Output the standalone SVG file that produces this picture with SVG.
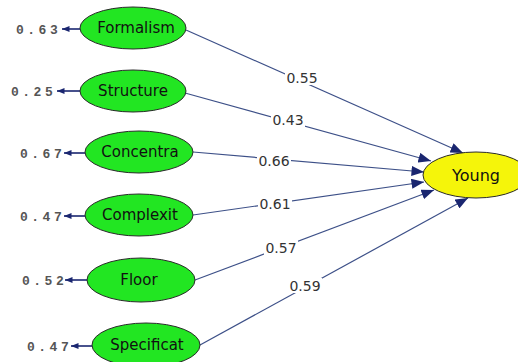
<svg xmlns="http://www.w3.org/2000/svg" width="518" height="362" viewBox="0 0 518 362">
<style>
.obs{fill:#22e622;stroke:#2a2a2a;stroke-width:1}
.lat{fill:#f5f50a;stroke:#2a2a2a;stroke-width:1}
.nt{font-family:"DejaVu Sans","Liberation Sans",sans-serif;font-size:15px;fill:#111;text-anchor:middle}
.yt{font-family:"DejaVu Sans","Liberation Sans",sans-serif;font-size:16px;fill:#111;text-anchor:middle}
.et{font-family:"Liberation Mono","DejaVu Sans Mono",monospace;font-size:13px;font-weight:bold;fill:#555;text-anchor:start;letter-spacing:3.5px}
.edge{stroke:#3d5088;stroke-width:1.2;fill:none;marker-end:url(#ah)}
.err{stroke:#1a2670;stroke-width:1.6;fill:none;marker-end:url(#eh)}
.lbl{font-family:"DejaVu Sans","Liberation Sans",sans-serif;font-size:14px;fill:#333;text-anchor:middle}
.bg{fill:#fff}
</style>
<defs>
<marker id="ah" viewBox="0 0 10 8" refX="10" refY="4" markerWidth="13" markerHeight="10" markerUnits="userSpaceOnUse" orient="auto"><path d="M0,0 L10,4 L0,8 Z" fill="#1a2670"/></marker>
<marker id="eh" viewBox="0 0 10 8" refX="10" refY="4" markerWidth="8" markerHeight="6" markerUnits="userSpaceOnUse" orient="auto"><path d="M0,0 L10,4 L0,8 Z" fill="#1a2670"/></marker>
</defs>
<rect width="518" height="362" fill="#fff"/>
<g id="connectors">
<line class="edge" x1="186" y1="30" x2="463" y2="153"/>
<line class="edge" x1="185" y1="93" x2="431" y2="161"/>
<line class="edge" x1="193" y1="152" x2="424" y2="172"/>
<line class="edge" x1="193" y1="215" x2="424" y2="182"/>
<line class="edge" x1="195" y1="280" x2="434" y2="190"/>
<line class="edge" x1="200" y1="345" x2="468" y2="198"/>
<line class="err" x1="80" y1="29" x2="62" y2="29"/>
<line class="err" x1="80" y1="91" x2="57" y2="91"/>
<line class="err" x1="85" y1="153" x2="64" y2="153"/>
<line class="err" x1="85" y1="216" x2="64" y2="216"/>
<line class="err" x1="87" y1="280" x2="65" y2="280"/>
<line class="err" x1="92" y1="346" x2="71" y2="346"/>
<rect class="bg" x="285" y="70" width="34" height="15"/>
<rect class="bg" x="271" y="112" width="34" height="15"/>
<rect class="bg" x="257" y="153" width="34" height="15"/>
<rect class="bg" x="258" y="196" width="34" height="15"/>
<rect class="bg" x="264" y="240" width="34" height="15"/>
<rect class="bg" x="288" y="278" width="34" height="15"/>
<text class="lbl" x="302" y="83">0.55</text>
<text class="lbl" x="288" y="125">0.43</text>
<text class="lbl" x="274" y="166">0.66</text>
<text class="lbl" x="275" y="209">0.61</text>
<text class="lbl" x="281" y="253">0.57</text>
<text class="lbl" x="305" y="291">0.59</text>
</g>
<g id="Formalism"><ellipse class="obs" cx="133" cy="28" rx="53" ry="21"/><text class="nt" x="136" y="33">Formalism</text><text class="et" x="16" y="34">0.63</text></g>
<g id="Structure"><ellipse class="obs" cx="133" cy="91" rx="53" ry="21"/><text class="nt" x="133" y="96">Structure</text><text class="et" x="11" y="96">0.25</text></g>
<g id="Concentra"><ellipse class="obs" cx="139" cy="152" rx="54" ry="21"/><text class="nt" x="140" y="157">Concentra</text><text class="et" x="20" y="158">0.67</text></g>
<g id="Complexit"><ellipse class="obs" cx="139" cy="215" rx="54" ry="21"/><text class="nt" x="140" y="220">Complexit</text><text class="et" x="20" y="221">0.47</text></g>
<g id="Floor"><ellipse class="obs" cx="141" cy="280" rx="54" ry="22"/><text class="nt" x="139" y="285">Floor</text><text class="et" x="22" y="285">0.52</text></g>
<g id="Specificat"><ellipse class="obs" cx="146" cy="345" rx="54" ry="22"/><text class="nt" x="147" y="350">Specificat</text><text class="et" x="27" y="351">0.47</text></g>
<g id="Young"><ellipse class="lat" cx="476" cy="175" rx="53" ry="23"/><text class="yt" x="476" y="181">Young</text></g>
</svg>
